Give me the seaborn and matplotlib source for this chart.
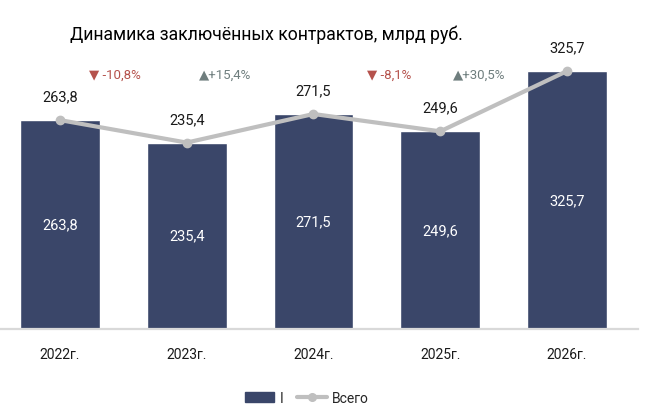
import numpy as np
import pandas as pd
import matplotlib
matplotlib.use("Agg")
import matplotlib.pyplot as plt
import seaborn as sns
from matplotlib.patches import Patch
from matplotlib.lines import Line2D

# ---- data ----
years = ["2022г.", "2023г.", "2024г.", "2025г.", "2026г."]
series_I = [263.8, 235.4, 271.5, 249.6, 325.7]
total = [263.8, 235.4, 271.5, 249.6, 325.7]
changes = ["-10,8%", "+15,4%", "-8,1%", "+30,5%"]
change_up = [False, True, False, True]
title = "Динамика заключённых контрактов, млрд руб."

# ---- style ----
sns.set_theme(style="white")
FAM = ["Roboto", "DejaVu Sans"]
plt.rcParams["font.family"] = FAM

BAR = "#3A4669"
LINE = "#BFBFBF"
DOWN = "#B5524C"
UP = "#6F7E7E"
TXT = "#1A1A1A"

fig = plt.figure(figsize=(6.46, 4.14), dpi=100)
ax = fig.add_axes([0.0, 1 - 330 / 414, 638 / 646, 293 / 414])

df = pd.DataFrame({"year": years, "I": series_I, "total": total})
sns.barplot(data=df, x="year", y="I", color=BAR, width=0.63, saturation=1,
            ax=ax, zorder=2)
xpos = np.arange(len(years))
ax.plot(xpos, df["total"], color=LINE, lw=3, marker="o", ms=6,
        zorder=3, solid_capstyle="round")

ax.set_xlim(-0.473, 4.56)
ax.set_ylim(0, 370)
ax.set_xlabel("")
ax.set_ylabel("")
ax.set_yticks([])
for s in ["top", "right", "left"]:
    ax.spines[s].set_visible(False)
ax.spines["bottom"].set_color("#D9D9D9")
ax.spines["bottom"].set_linewidth(1.6)
ax.tick_params(axis="x", length=0, pad=13, labelsize=10, labelcolor=TXT)

def fmt(v):
    return f"{v:.1f}".replace(".", ",")

# labels inside bars
for i, v in enumerate(series_I):
    ax.text(i, v / 2, fmt(v), ha="center", va="center", color="white",
            fontsize=10.5, zorder=4)
# labels above line points
for i, v in enumerate(total):
    ax.annotate(fmt(v), (i, v), xytext=(0, 12), textcoords="offset points",
                ha="center", va="bottom", color=TXT, fontsize=10.5, zorder=4)

# change annotations (layout offsets from midpoints)
offs = [-0.07, -0.2, 0.1, -0.19]
for i, (c, up) in enumerate(zip(changes, change_up)):
    col = UP if up else DOWN
    sym = "▲" if up else "▼"
    fig.text((60 + (i + 0.5 + offs[i]) * 126.75) / 646, 1 - 75 / 414,
             sym + " " + c if not up else sym + c, ha="center", va="center",
             color=col, fontsize=9.5, family=FAM)

fig.text(70 / 646, 1 - 35 / 414, title, ha="left", va="center",
         fontsize=12.7, color="#000000", family=FAM)

handles = [Patch(facecolor=BAR, edgecolor=BAR),
           Line2D([0], [0], color=LINE, lw=3, marker="o", ms=5.5)]
fig.legend(handles, ["I", "Всего"], loc="center", ncol=2,
           bbox_to_anchor=(307 / 646, 1 - 399 / 414), frameon=False,
           fontsize=10, handlelength=2.1, handleheight=0.8,
           columnspacing=1.0, handletextpad=0.4)

fig.savefig("out.png", dpi=100)
